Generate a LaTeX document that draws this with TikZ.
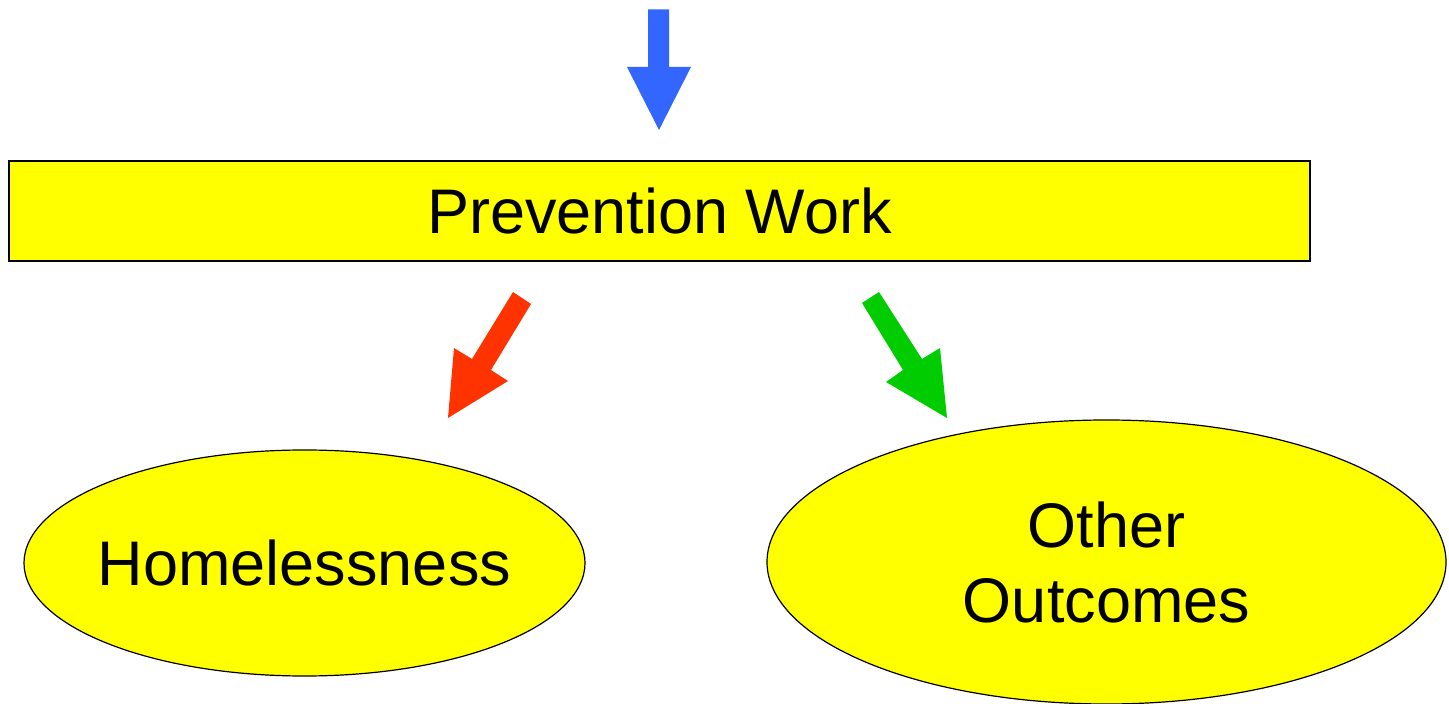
\documentclass[tikz,border=0pt]{standalone}
\usepackage{fontspec}
\setmainfont{Liberation Sans}
\usetikzlibrary{shapes.geometric}
\definecolor{boxyellow}{HTML}{FFFF00}
\definecolor{arrblue}{HTML}{3366FF}
\definecolor{arrred}{HTML}{FF3300}
\definecolor{arrgreen}{HTML}{00CC00}
\tikzset{
  bigtext/.style={font=\fontsize{31.5}{37.5}\selectfont, text=black},
  yellowbox/.style={draw=black, line width=0.6pt, fill=boxyellow, inner sep=0pt, bigtext},
  yellowell/.style={yellowbox, ellipse, align=center}
}
\begin{document}
\begin{tikzpicture}[x=0.5pt,y=-0.5pt]
\useasboundingbox (0,0) rectangle (1449,704);
% box
\node[yellowbox, minimum width=650.5pt, minimum height=50pt] (pw) at (659.5,211) {Prevention Work};
% ellipses
\node[yellowell, inner xsep=-8pt, minimum width=280.5pt, minimum height=113pt] (hl) at (304.5,563) {Homelessness};
\node[yellowell, minimum width=339.5pt, minimum height=142pt] (oo) at (1106.5,562) {Other\\Outcomes};
% arrows
\fill[arrblue] (648,9.5) -- (669,9.5) -- (669,67) -- (691,67) -- (659,130) -- (627,67) -- (648,67) -- cycle;
\fill[arrred] (513,292) -- (531,304) -- (491,370) -- (508,381) -- (448,418) -- (454,348) -- (472,359) -- cycle;
\fill[arrgreen] (879,292) -- (862,303) -- (903,370) -- (886,382) -- (947,418) -- (940,348) -- (922,359) -- cycle;
\end{tikzpicture}
\end{document}
